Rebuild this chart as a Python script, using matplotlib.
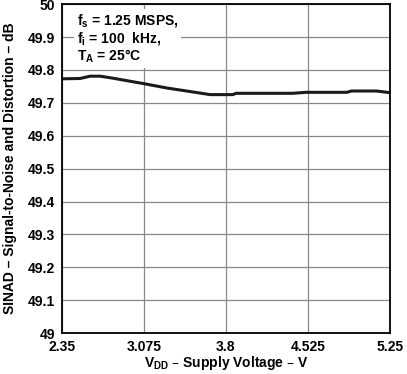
import matplotlib
matplotlib.use("Agg")
import matplotlib.pyplot as plt

plt.rcParams['font.family'] = ['Liberation Sans', 'DejaVu Sans']

# supply voltage (V) and SINAD (dB)
vdd = [2.35, 2.51, 2.60, 2.69, 2.80, 3.08, 3.28, 3.51, 3.66, 3.86, 3.89,
       4.39, 4.51, 4.87, 4.91, 5.13, 5.25]
sinad = [49.773, 49.774, 49.781, 49.781, 49.775, 49.758, 49.745, 49.733,
         49.725, 49.725, 49.729, 49.729, 49.732, 49.732, 49.736, 49.736,
         49.731]

xticks = [2.35, 3.075, 3.8, 4.525, 5.25]
xtick_labels = ["2.35", "3.075", "3.8", "4.525", "5.25"]
yticks = [49, 49.1, 49.2, 49.3, 49.4, 49.5, 49.6, 49.7, 49.8, 49.9, 50]
ytick_labels = ["49", "49.1", "49.2", "49.3", "49.4", "49.5", "49.6",
                "49.7", "49.8", "49.9", "50"]

fig = plt.figure(figsize=(4.07, 3.74), dpi=100)
ax = fig.add_axes([0.152, 0.109, 0.806, 0.880])

ax.plot(vdd, sinad, color="#1a1a1a", linewidth=2.2)

ax.set_xlim(2.35, 5.25)
ax.set_ylim(49, 50)
ax.set_xticks(xticks)
ax.set_xticklabels(xtick_labels)
ax.set_yticks(yticks)
ax.set_yticklabels(ytick_labels)
ax.tick_params(axis="x", length=0, labelsize=10, pad=5)
ax.tick_params(axis="y", length=0, labelsize=10, pad=5)
for lbl in ax.get_xticklabels() + ax.get_yticklabels():
    lbl.set_fontweight("bold")
ax.grid(True, color="#888888", linewidth=0.9)
for s in ax.spines.values():
    s.set_linewidth(1.3)

ax.set_xlabel(r"V$_{\mathregular{DD}}$ – Supply Voltage – V", fontsize=10,
              fontweight="bold", labelpad=0)
ax.set_ylabel("SINAD – Signal-to-Noise and Distortion – dB", fontsize=10,
              fontweight="bold", labelpad=8)

ax.text(0.045, 0.975,
        "f$_{\\mathregular{s}}$ = 1.25 MSPS,\n"
        "f$_{\\mathregular{i}}$ = 100  kHz,\n"
        "T$_{\\mathregular{A}}$ = 25°C",
        transform=ax.transAxes, va="top", ha="left", fontsize=10,
        fontweight="bold", linespacing=1.05,
        bbox=dict(facecolor="white", edgecolor="none", pad=2))

fig.savefig("out.png", dpi=100)
